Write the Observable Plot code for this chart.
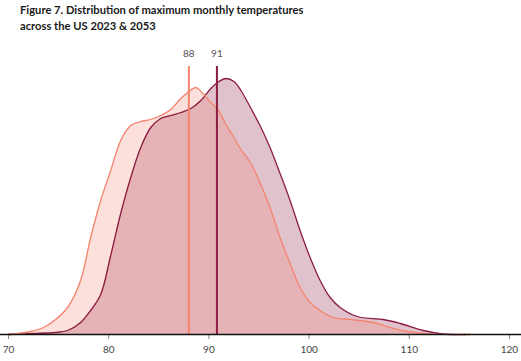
<!DOCTYPE html>
<html>
<head>
<meta charset="utf-8">
<script src="https://cdn.jsdelivr.net/npm/d3@7"></script>
<script src="https://cdn.jsdelivr.net/npm/@observablehq/plot@0.6"></script>
<style>
  html, body { margin: 0; padding: 0; background: #fff; }
  #title { height: 36px; box-sizing: border-box; padding: 2px 0 0 20px; font-family: Lato, sans-serif; font-weight: 700; font-size: 11.2px; line-height: 15.5px; color: #1a1a1a; }
  #chart svg { display: block; }
</style>
</head>
<body>
<div id="title">Figure 7. Distribution of maximum monthly temperatures<br>across the US 2023 &amp; 2053</div>
<div id="chart"></div>
<script>
const temp2023 = [70, 72.2, 73.5, 74.7, 75.9, 77.2, 78.2, 79.2, 80.2, 81.2, 82.2, 83.2, 84.2, 85.2, 86.2, 87.2, 87.9, 88.7, 89.3, 90.2, 90.9, 91.7, 92.5, 93.2, 94.2, 95.1, 96.1, 97.1, 98.1, 99.1, 100.1, 101.1, 102.4, 104.1, 106.4, 108.1, 109.8, 111.8, 114.1, 116.1];
const dens2023 = [0, 3, 7, 15, 27, 54, 97, 134, 164, 194, 209, 213, 215, 219, 225, 236, 242, 247, 242, 232, 225, 210, 197, 185, 171, 152, 127, 97, 71, 47, 32, 24, 17, 15, 12, 7, 3, 0.7, 0.1, 0];
const temp2053 = [70, 72.5, 74.7, 75.9, 77.2, 78.2, 79.2, 80.2, 81.2, 82.2, 83.2, 84.2, 85.2, 86.2, 87.2, 88.2, 89.2, 90.2, 91.0, 91.7, 92.5, 93.2, 94.2, 95.1, 96.1, 97.1, 98.1, 99.1, 100.1, 101.1, 102.1, 103.1, 104.8, 107.4, 109.1, 111.4, 113.4, 115.6];
const dens2053 = [0, 1, 2, 4, 12, 24, 40, 79, 121, 157, 187, 207, 216, 219, 222, 226, 234, 246, 253, 256, 253, 244, 226, 209, 187, 161, 134, 104, 77, 54, 37, 27, 18, 15, 11, 4, 0.5, 0];
const years = ["2023", "2053"];
const means = [88.0, 90.8];
const meanLabels = ["88", "91"];
const xTicks = [70, 80, 90, 100, 110, 120];

const c2023 = "#f4846e";
const c2053 = "#8c1c42";

const d2023 = temp2023.map((t, i) => ({t, d: dens2023[i]}));
const d2053 = temp2053.map((t, i) => ({t, d: dens2053[i]}));
const meanRows = means.map((m, i) => ({m, label: meanLabels[i], year: years[i]}));
const lineTop = 268, labelY = 281;
const curve = "catmull-rom";

const chart = Plot.plot({
  width: 521,
  height: 325,
  marginLeft: 0,
  marginRight: 0,
  marginTop: 2,
  marginBottom: 27,
  x: {domain: [69.2, 121.2]},
  y: {domain: [0, 296], axis: null},
  style: {fontFamily: "Lato, sans-serif", fontSize: "10px", color: "#444"},
  marks: [
    Plot.areaY(d2053, {x: "t", y: "d", fill: c2053, fillOpacity: 0.27, curve}),
    Plot.areaY(d2023, {x: "t", y: "d", fill: c2023, fillOpacity: 0.25, curve}),
    Plot.lineY(d2053, {x: "t", y: "d", stroke: c2053, strokeWidth: 1.3, curve}),
    Plot.lineY(d2023, {x: "t", y: "d", stroke: c2023, strokeWidth: 1.3, curve}),
    Plot.ruleX(meanRows, {x: "m", y1: 0, y2: lineTop, stroke: d => d.year === "2023" ? c2023 : c2053, strokeWidth: 2}),
    Plot.text(meanRows, {x: "m", y: labelY, text: "label", fill: "#555", fontSize: 10}),
    Plot.axisX({ticks: xTicks, tickSize: 5, tickPadding: 6, stroke: "#888", color: "#444", fontSize: 10, label: null}),
    Plot.ruleY([0], {stroke: "#111", strokeWidth: 1.5})
  ]
});
document.getElementById("chart").appendChild(chart);
</script>
</body>
</html>
